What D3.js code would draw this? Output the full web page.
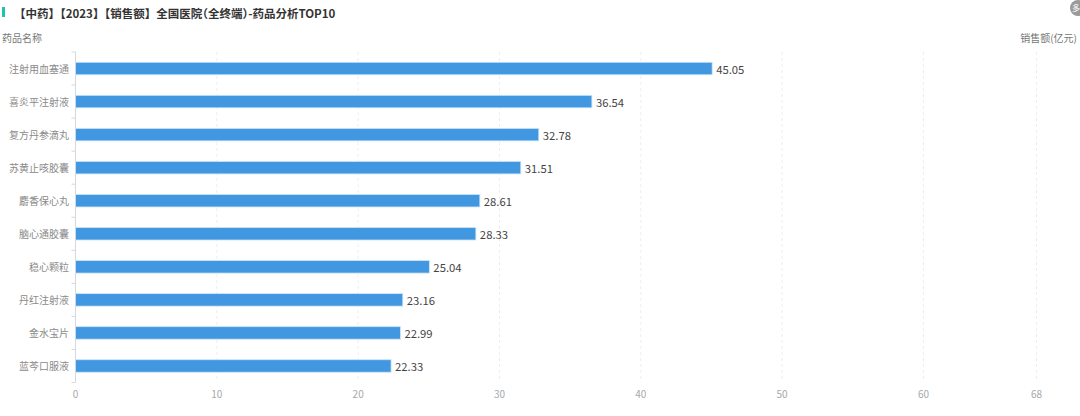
<!DOCTYPE html>
<html>
<head>
<meta charset="utf-8">
<script src="https://cdn.jsdelivr.net/npm/d3@7"></script>
<style>
    html, body { margin: 0; padding: 0; background: #fff; overflow: hidden; }
    text { font-family: "Noto Sans CJK SC", "Noto Sans", sans-serif; }
    .half { font-feature-settings: "halt"; }
</style>
</head>
<body>
<script>
const w = 1080;
const h = 416;

const drugs = ['注射用血塞通', '喜炎平注射液', '复方丹参滴丸', '苏黄止咳胶囊', '麝香保心丸', '脑心通胶囊', '稳心颗粒', '丹红注射液', '金水宝片', '蓝芩口服液'];
const sales = [45.05, 36.54, 32.78, 31.51, 28.61, 28.33, 25.04, 23.16, 22.99, 22.33];
const xTicks = [0, 10, 20, 30, 40, 50, 60, 68];

// title pieces, the round brackets are half width in the original
const titleParts = ['【中药】【2023】【销售额】全国医院', '（', '全终端', '）', '-药品分析TOP10'];

const svg = d3.select('body').append('svg').attr('width', w).attr('height', h).style('display', 'block');

const x = d3.scaleLinear().domain([0, 68]).range([75.5, 1036.5]);
const y = d3.scaleBand().domain(drugs).range([52, 382.5]);
const barH = 12.5;

// title + marker
svg.append('rect').attr('x', 2).attr('y', 7).attr('width', 3).attr('height', 10).attr('fill', '#1fc1b0');
svg.append('text').attr('x', 14).attr('y', 17.5).attr('font-size', 11.5).attr('font-weight', 700).attr('fill', '#333')
    .selectAll('tspan')
    .data(titleParts)
    .enter()
    .append('tspan')
    .attr('class', d => d.length === 1 ? 'half' : null)
    .text(d => d);

// corner button
svg.append('circle').attr('cx', 1078).attr('cy', 8).attr('r', 8).attr('fill', '#9a9a9a');
svg.append('text').attr('x', 1076).attr('y', 11).attr('text-anchor', 'middle').attr('font-size', 8).attr('fill', '#fff').text('多');

// axis names
svg.append('text').attr('x', 2).attr('y', 41.5).attr('font-size', 10).attr('fill', '#777').text('药品名称');
svg.append('text').attr('x', 1077).attr('y', 41.5).attr('text-anchor', 'end').attr('font-size', 10).attr('fill', '#777').text('销售额(亿元)');

// grid
svg.selectAll('.grid')
    .data(xTicks.slice(1))
    .enter()
    .append('line')
    .attr('class', 'grid')
    .attr('x1', d => x(d)).attr('x2', d => x(d))
    .attr('y1', 52).attr('y2', 382.5)
    .attr('stroke', '#eceef0')
    .attr('stroke-dasharray', '3,3');

// y axis line and ticks
svg.append('line')
    .attr('x1', x(0)).attr('x2', x(0))
    .attr('y1', 52).attr('y2', 382.5)
    .attr('stroke', '#d5d8dc');
const yTickPos = drugs.map(d => y(d)).concat([y.range()[1]]);
svg.selectAll('.ytick')
    .data(yTickPos)
    .enter()
    .append('line')
    .attr('class', 'ytick')
    .attr('x1', x(0) - 4).attr('x2', x(0))
    .attr('y1', d => d).attr('y2', d => d)
    .attr('stroke', '#d5d8dc');

// y labels
svg.selectAll('.ylabel')
    .data(drugs)
    .enter()
    .append('text')
    .attr('class', 'ylabel')
    .attr('x', 69)
    .attr('y', d => y(d) + y.bandwidth() / 2 + 4.5)
    .attr('text-anchor', 'end')
    .attr('font-size', 10)
    .attr('fill', '#8a8a8a')
    .text(d => d);

// x labels
svg.selectAll('.xlabel')
    .data(xTicks)
    .enter()
    .append('text')
    .attr('class', 'xlabel')
    .attr('x', d => x(d))
    .attr('y', 398)
    .attr('text-anchor', 'middle')
    .attr('font-size', 10)
    .attr('fill', '#a5a8ad')
    .text(d => d);

// bars
svg.selectAll('.bar')
    .data(sales)
    .enter()
    .append('rect')
    .attr('class', 'bar')
    .attr('x', x(0))
    .attr('y', (d, i) => y(drugs[i]) + (y.bandwidth() - barH) / 2)
    .attr('width', d => x(d) - x(0))
    .attr('height', barH)
    .attr('fill', '#4298e0')
    .attr('stroke', '#cfe4f6')
    .attr('stroke-width', 0.8);

// value labels
svg.selectAll('.val')
    .data(sales)
    .enter()
    .append('text')
    .attr('class', 'val')
    .attr('x', d => x(d) + 4)
    .attr('y', (d, i) => y(drugs[i]) + y.bandwidth() / 2 + 5.5)
    .attr('font-size', 11.3)
    .attr('fill', '#444')
    .text(d => d.toFixed(2));
</script>
</body>
</html>
